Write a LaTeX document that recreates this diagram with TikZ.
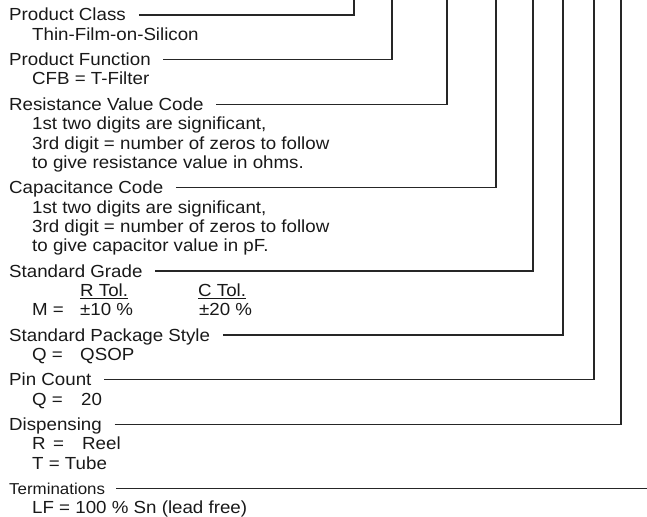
\documentclass[tikz,border=0pt]{standalone}
\usepackage{fontspec}
\setmainfont[FakeStretch=1.07]{Liberation Sans}
\usetikzlibrary{calc}
\begin{document}
\begin{tikzpicture}[x=1pt,y=-1pt,
  txt/.style={anchor=base west,inner sep=0pt,font=\fontsize{17.5}{19.2}\selectfont,text=black!90},
  smalltxt/.style={txt,font=\fontsize{15.8}{17}\selectfont},
  lead/.style={draw=black!85,line width=1.05pt},
]
\useasboundingbox (0,0) rectangle (647,516);
% top ends of the leaders
\coordinate (v1) at (354,0);
\coordinate (v2) at (392,0);
\coordinate (v3) at (447,0);
\coordinate (v4) at (496,0);
\coordinate (v5) at (533,0);
\coordinate (v6) at (563,0);
\coordinate (v7) at (594,0);
\coordinate (v8) at (621,0);
% headings
\node[txt] (pc)  at (9,21)  {Product Class};
\node[txt] (pf)  at (9,65.8)  {Product Function};
\node[txt] (rvc) at (9,110.6) {Resistance Value Code};
\node[txt] (cc)  at (9,193.8) {Capacitance Code};
\node[txt] (sg)  at (9,277) {Standard Grade};
\node[txt] (sps) at (9,341) {Standard Package Style};
\node[txt] (pin) at (9,385.8) {Pin Count};
\node[txt] (dis) at (9,430.6) {Dispensing};
\node[smalltxt] (ter) at (9,494.4) {Terminations};
% details
\node[txt] (pc1) at (32,40.2) {Thin-Film-on-Silicon};
\node[txt] (pf1) at (32,85) {CFB = T-Filter};
\node[txt] (r1) at (32,129.8) {1st two digits are significant,};
\node[txt] (r2) at (32,149) {3rd digit = number of zeros to follow};
\node[txt] (r3) at (32,168.2) {to give resistance value in ohms.};
\node[txt] (c1) at (32,213) {1st two digits are significant,};
\node[txt] (c2) at (32,232.2) {3rd digit = number of zeros to follow};
\node[txt] (c3) at (32,251.4) {to give capacitor value in pF.};
\node[txt] (rtol) at (80,296.2) {\underline{R Tol.}};
\node[txt] (ctol) at (198,296.2) {\underline{C Tol.}};
\node[txt] (m)   at (32,315.4) {M =};
\node[txt] (m1)  at (80,315.4) {±10 \%};
\node[txt] (m2)  at (199,315.4) {±20 \%};
\node[txt] (q1)  at (32,360.2) {Q =};
\node[txt] (q1v) at (80,360.2) {QSOP};
\node[txt] (q2)  at (32,405) {Q =};
\node[txt] (q2v) at (81,405) {20};
\node[txt] (dr)  at (32,449.8) {R};
\node[txt] (dre) at (53,449.8) {=};
\node[txt] (drv) at (82,449.8) {Reel};
\node[txt] (dt)  at (32,469) {T = Tube};
\node[txt] (lf)  at (32,513) {LF = 100 \% Sn (lead free)};
% leaders
\draw[lead] ($(pc.base east)+(13,-6)$) -| (v1);
\draw[lead] ($(pf.base east)+(12.5,-6)$) -| (v2);
\draw[lead] ($(rvc.base east)+(12.5,-6)$) -| (v3);
\draw[lead] ($(cc.base east)+(12.5,-6)$) -| (v4);
\draw[lead] ($(sg.base east)+(12.5,-6)$) -| (v5);
\draw[lead] ($(sps.base east)+(12.5,-6)$) -| (v6);
\draw[lead] ($(pin.base east)+(12.5,-6)$) -| (v7);
\draw[lead] ($(dis.base east)+(12.5,-6)$) -| (v8);
\coordinate (ts) at ($(ter.base east)+(11,-5.5)$);
\coordinate (te) at (647,0 |- ts);
\draw[lead] (ts) -- (te);
\end{tikzpicture}
\end{document}
